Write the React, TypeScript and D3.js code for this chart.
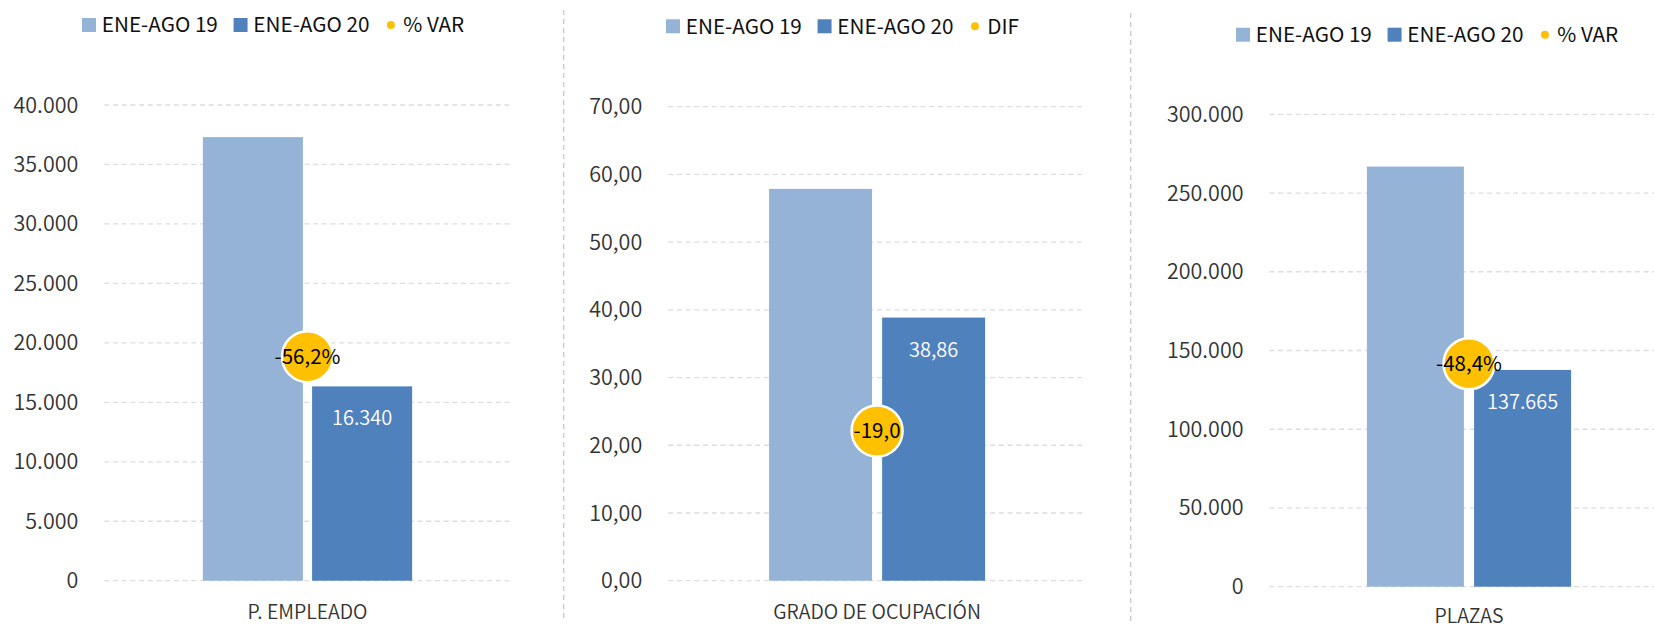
import React, { useEffect, useRef } from 'react';
import * as d3 from 'd3';

// chart values
const categories = ['P. EMPLEADO', 'GRADO DE OCUPACIÓN', 'PLAZAS'];
const seriesNames = ['ENE-AGO 19', 'ENE-AGO 20'];
const markerNames = ['% VAR', 'DIF', '% VAR'];
const values19 = [37300, 57.86, 266800];
const values20 = [16340, 38.86, 137665];
const variation = [-56.2, -19.0, -48.4];
const variationLabels = ['-56,2%', '-19,0', '-48,4%'];
const yMax = [40000, 70, 300000];
const yStep = [5000, 10, 50000];
// hidden secondary axis for the yellow markers
const varDomain: [number, number][] = [
  [-100, -7],
  [-25, -6],
  [-72, -22],
];

const COLORS = ['#95B3D7', '#4F81BD'];
const YELLOW = '#FFC000';
const FONT = '"Noto Sans CJK SC", "Noto Sans", sans-serif';

const fmtThousands = (v: number) =>
  d3.format(',')(Math.round(v)).replace(/,/g, '.');
const fmtDecimal = (v: number) => d3.format('.2f')(v).replace('.', ',');
const tickFormats = [fmtThousands, fmtDecimal, fmtThousands];
const valueFormats = [fmtThousands, fmtDecimal, fmtThousands];

// panel layout (pixels)
const panels = [
  { x0: 104.3, x1: 510.7, po: 0.471, pi: 0.084, yBase: 580.7, yTop: 105, legendX: 82, legendY: 25, catY: 619 },
  { x0: 668.2, x1: 1086, po: 0.467, pi: 0.089, yBase: 580.7, yTop: 106.7, legendX: 666, legendY: 26.3, catY: 619 },
  { x0: 1269.5, x1: 1668.5, po: 0.477, pi: 0.095, yBase: 586.7, yTop: 114.3, legendX: 1236, legendY: 34.7, catY: 622.5 },
];

const App: React.FC = () => {
  const ref = useRef<SVGSVGElement | null>(null);

  useEffect(() => {
    if (!ref.current) return;
    const svg = d3.select(ref.current);
    svg.selectAll('*').remove();

    // dashed separators between panels
    [563.7, 1130.7].forEach((sx, i) => {
      svg
        .append('line')
        .attr('x1', sx)
        .attr('x2', sx)
        .attr('y1', i === 0 ? 10 : 13)
        .attr('y2', 622)
        .attr('stroke', '#C8C8C8')
        .attr('stroke-width', 1.3)
        .attr('stroke-dasharray', '5 4');
    });

    panels.forEach((p, i) => {
      const g = svg.append('g');
      const y = d3.scaleLinear().domain([0, yMax[i]]).range([p.yBase, p.yTop]);
      const yVar = d3.scaleLinear().domain(varDomain[i]).range([p.yBase, p.yTop]);
      const x = d3
        .scaleBand<string>()
        .domain([categories[i]])
        .range([p.x0, p.x1])
        .paddingInner(0)
        .paddingOuter(p.po);
      const xs = d3
        .scaleBand<string>()
        .domain(seriesNames)
        .range([0, x.bandwidth()])
        .paddingInner(p.pi);

      const ticks = d3.range(0, yMax[i] + yStep[i] / 2, yStep[i]);

      // grid
      g.selectAll('line.grid')
        .data(ticks)
        .enter()
        .append('line')
        .attr('x1', p.x0)
        .attr('x2', p.x1)
        .attr('y1', (d) => y(d))
        .attr('y2', (d) => y(d))
        .attr('stroke', '#DDDDDD')
        .attr('stroke-width', 1.3)
        .attr('stroke-dasharray', '5 3.7');

      // y tick labels
      g.selectAll('text.tick')
        .data(ticks)
        .enter()
        .append('text')
        .attr('x', p.x0 - 26)
        .attr('y', (d) => y(d))
        .attr('dy', '0.35em')
        .attr('text-anchor', 'end')
        .attr('font-family', FONT)
        .attr('font-size', 21.5)
        .attr('font-weight', 350)
        .attr('fill', '#333333')
        .text((d) => tickFormats[i](d));

      // bars
      const vals = [values19[i], values20[i]];
      const bx = x(categories[i])!;
      g.selectAll('rect.bar')
        .data(vals)
        .enter()
        .append('rect')
        .attr('x', (_, j) => bx + xs(seriesNames[j])!)
        .attr('width', xs.bandwidth())
        .attr('y', (d) => y(d))
        .attr('height', (d) => p.yBase - y(d))
        .attr('fill', (_, j) => COLORS[j]);

      // value label on 2020 bar
      g.append('text')
        .attr('x', bx + xs(seriesNames[1])! + xs.bandwidth() / 2)
        .attr('y', y(values20[i]) + 39)
        .attr('text-anchor', 'middle')
        .attr('font-family', FONT)
        .attr('font-size', 20)
        .attr('font-weight', 350)
        .attr('fill', '#FFFFFF')
        .text(valueFormats[i](values20[i]));

      // variation marker
      const cx = bx + x.bandwidth() / 2;
      const cy = yVar(variation[i]);
      g.append('circle')
        .attr('cx', cx)
        .attr('cy', cy)
        .attr('r', 25.5)
        .attr('fill', YELLOW)
        .attr('stroke', '#FFFFFF')
        .attr('stroke-width', 2.5);
      g.append('text')
        .attr('x', cx)
        .attr('y', cy)
        .attr('dy', '0.35em')
        .attr('text-anchor', 'middle')
        .attr('font-family', FONT)
        .attr('font-size', 20.5)
        .attr('fill', '#000000')
        .text(variationLabels[i]);

      // category label
      g.append('text')
        .attr('x', cx)
        .attr('y', p.catY)
        .attr('text-anchor', 'middle')
        .attr('font-family', FONT)
        .attr('font-size', 19.5)
        .attr('font-weight', 350)
        .attr('fill', '#333333')
        .text(categories[i]);

      // legend
      const lg = g.append('g').attr('transform', `translate(${p.legendX},${p.legendY})`);
      let lx = 0;
      const sq = 14;
      seriesNames.forEach((name, j) => {
        lg.append('rect')
          .attr('x', lx)
          .attr('y', -sq / 2)
          .attr('width', sq)
          .attr('height', sq)
          .attr('fill', COLORS[j]);
        const t = lg
          .append('text')
          .attr('x', lx + sq + 5.8)
          .attr('dy', '0.35em')
          .attr('font-family', FONT)
          .attr('font-size', 20.7)
          .attr('fill', '#111111')
          .text(name);
        lx += sq + 5.8 + (t.node() as SVGTextElement).getComputedTextLength() + (j === 0 ? 15.7 : 0);
      });
      lg.append('circle')
        .attr('cx', lx + 21.5)
        .attr('cy', 0)
        .attr('r', 4)
        .attr('fill', YELLOW);
      lg.append('text')
        .attr('x', lx + 21.5 + 12.3)
        .attr('dy', '0.35em')
        .attr('font-family', FONT)
        .attr('font-size', 20.7)
        .attr('fill', '#111111')
        .text(markerNames[i]);
    });
  }, []);

  return (
    <svg
      ref={ref}
      width={1654}
      height={628}
      style={{ position: 'absolute', left: 0, top: 0, background: '#FFFFFF' }}
    ></svg>
  );
};

export default App;
